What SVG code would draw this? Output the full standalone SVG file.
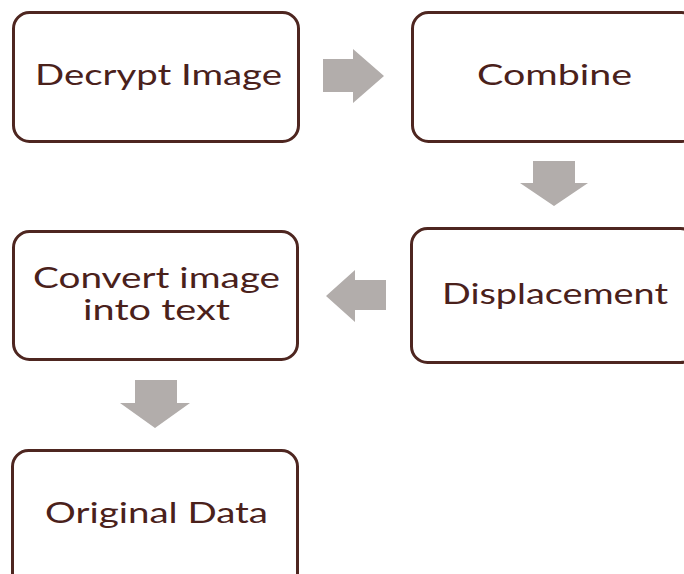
<svg xmlns="http://www.w3.org/2000/svg" width="684" height="574" viewBox="0 0 684 574">
  <style>
    .box { fill: #ffffff; stroke: #4e2620; stroke-width: 3; }
    .lbl { font-family: Lato, "Open Sans", sans-serif; font-size: 29px; fill: #4a211b; text-anchor: middle; }
    .arr { fill: #b2adab; }
  </style>
  <rect width="684" height="574" fill="#ffffff"/>
  <g id="connectors">
    <polygon class="arr" points="323,59 353,59 353,49 384,76 353,103 353,92 323,92"/>
    <polygon class="arr" points="533,161 575,161 575,183 588,183 554,206 520,183 533,183"/>
    <polygon class="arr" points="386,280 355,280 355,270 326,296 355,322 355,310 386,310"/>
    <polygon class="arr" points="135,380 177,380 177,403 190,403 155,428 120,403 135,403"/>
  </g>
  <g id="decrypt">
    <rect class="box" x="13.5" y="12.5" width="285" height="129" rx="16"/>
    <text class="lbl" x="158.5" y="85" textLength="247" lengthAdjust="spacingAndGlyphs">Decrypt Image</text>
  </g>
  <g id="combine">
    <rect class="box" x="412.5" y="12.5" width="285" height="129" rx="16"/>
    <text class="lbl" x="554.5" y="85" textLength="155" lengthAdjust="spacingAndGlyphs">Combine</text>
  </g>
  <g id="displacement">
    <rect class="box" x="411.5" y="228.5" width="285" height="134" rx="16"/>
    <text class="lbl" x="555" y="304" textLength="226" lengthAdjust="spacingAndGlyphs">Displacement</text>
  </g>
  <g id="convert">
    <rect class="box" x="13.5" y="231.5" width="284" height="128" rx="16"/>
    <text class="lbl" x="156.5" y="288" textLength="247" lengthAdjust="spacingAndGlyphs">Convert image</text>
    <text class="lbl" x="156.5" y="320" textLength="147" lengthAdjust="spacingAndGlyphs">into text</text>
  </g>
  <g id="original">
    <rect class="box" x="12.5" y="450.5" width="285" height="140" rx="16"/>
    <text class="lbl" x="156.5" y="523" textLength="223" lengthAdjust="spacingAndGlyphs">Original Data</text>
  </g>
</svg>
